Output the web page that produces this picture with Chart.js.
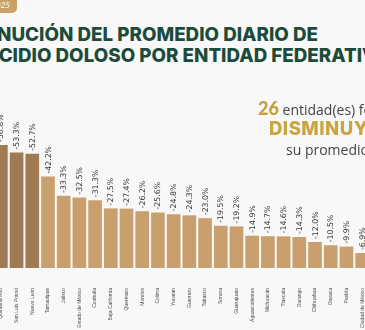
<!DOCTYPE html>
<html lang="es">
<head>
<meta charset="utf-8">
<title>Homicidio doloso por entidad federativa</title>
<script src="https://cdn.jsdelivr.net/npm/chart.js@4"></script>
<style>
    html, body {
        margin: 0;
        padding: 0;
        overflow: hidden;
    }
    #lienzo {
        width: 365px;
        height: 330px;
        overflow: hidden;
        position: relative;
        background: #f7f8f7;
    }
    #badge {
        position: absolute;
        left: 0;
        top: 0;
        width: 17px;
        height: 13px;
        border-radius: 0 0 5px 0;
        background: #c9a066;
        overflow: hidden;
    }
    #badge span {
        position: absolute;
        right: 7px;
        top: 0;
        color: #fff;
        font: italic 8px 'Lato', sans-serif;
        line-height: 10px;
        white-space: nowrap;
    }
    .titulo {
        position: absolute;
        white-space: nowrap;
        color: #1d4b3b;
        font: 800 18.8px 'Inter', sans-serif;
        line-height: 20px;
    }
    #titulo1 { right: 47px; top: 25px; }
    #titulo2 { left: -53px; top: 46px; }
    .nota {
        position: absolute;
        white-space: nowrap;
        color: #444;
        font: 14px 'Open Sans', sans-serif;
        line-height: 18px;
    }
    #nota1 { left: 258px; top: 97px; }
    #nota1 b {
        color: #c6a03c;
        font: 900 18px 'Lato', sans-serif;
    }
    #nota2 {
        left: 269px;
        top: 117px;
        color: #c9a542;
        font: 800 18.5px 'Inter', sans-serif;
        letter-spacing: 0.5px;
    }
    #nota3 { left: 286px; top: 141px; }
    #grafica {
        position: absolute;
        left: -7px;
        top: 0;
    }
</style>
</head>
<body>
<div id="lienzo">
    <div id="badge"><span>2025</span></div>
    <div class="titulo" id="titulo1">DISMINUCIÓN DEL PROMEDIO DIARIO DE</div>
    <div class="titulo" id="titulo2">HOMICIDIO DOLOSO POR ENTIDAD FEDERATIVA</div>
    <canvas id="grafica" width="377" height="330"></canvas>
    <div class="nota" id="nota1"><b>26</b> entidad(es) federativas</div>
    <div class="nota" id="nota2">DISMINUYERON</div>
    <div class="nota" id="nota3">su promedio diario</div>
</div>
<script>
'use strict';

const entidades = [
    'Quintana Roo', 'San Luis Potosí', 'Nuevo León', 'Tamaulipas', 'Jalisco',
    'Estado de México', 'Coahuila', 'Baja California', 'Querétaro', 'Morelos',
    'Colima', 'Yucatán', 'Guerrero', 'Tabasco', 'Sonora', 'Guanajuato',
    'Aguascalientes', 'Michoacán', 'Tlaxcala', 'Durango', 'Chihuahua',
    'Oaxaca', 'Puebla', 'Ciudad de México'
];
const variacion = [
    -56.8, -53.3, -52.7, -42.2, -33.3,
    -32.5, -31.3, -27.5, -27.4, -26.2,
    -25.6, -24.8, -24.3, -23.0, -19.5, -19.2,
    -14.9, -14.7, -14.6, -14.3, -12.0,
    -10.5, -9.9, -6.9
];
// the three largest drops get the darker tone
const destacadas = 3;

const color_oscuro = '#9f7a53';
const color_claro = '#c9a06d';

function format_pct(v) {
    return v.toFixed(1) + '%';
}

// value text rotated above every bar
const etiquetas_plugin = {
    id: 'etiquetas',
    afterDatasetsDraw(chart) {
        const ctx = chart.ctx;
        const meta = chart.getDatasetMeta(0);
        const data = chart.data.datasets[0].data;
        ctx.save();
        ctx.fillStyle = '#3a3a3a';
        ctx.font = '7.8px "DejaVu Sans", sans-serif';
        ctx.textAlign = 'left';
        ctx.textBaseline = 'middle';
        meta.data.forEach((bar, i) => {
            ctx.save();
            ctx.translate(bar.x + 0.5, bar.y - 3);
            ctx.rotate(-Math.PI / 2);
            ctx.fillText(format_pct(data[i]), 0, 0);
            ctx.restore();
        });
        ctx.restore();
    }
};

function draw_chart() {
    const ctx = document.getElementById('grafica').getContext('2d');
    new Chart(ctx, {
        type: 'bar',
        data: {
            labels: entidades,
            datasets: [{
                data: variacion,
                backgroundColor: variacion.map((_v, i) => i < destacadas ? color_oscuro : color_claro),
                borderWidth: 0,
                barPercentage: 0.87,
                categoryPercentage: 1.0
            }]
        },
        options: {
            responsive: false,
            animation: false,
            layout: {
                padding: { top: 138, left: 0, right: 0, bottom: 0 }
            },
            plugins: {
                legend: { display: false },
                tooltip: { enabled: false }
            },
            scales: {
                y: {
                    display: false,
                    reverse: true,
                    min: -60,
                    max: 0
                },
                x: {
                    grid: { display: false, drawTicks: false },
                    border: { display: false },
                    afterFit: (scale) => {
                        // bars run edge to edge, no room kept for the rotated labels
                        scale.height = 62;
                        scale.paddingLeft = 0;
                        scale.paddingRight = 0;
                    },
                    ticks: {
                        autoSkip: false,
                        maxRotation: 90,
                        minRotation: 90,
                        padding: 20,
                        color: '#4d4d4d',
                        font: { family: 'Liberation Sans', size: 5 }
                    }
                }
            }
        },
        plugins: [etiquetas_plugin]
    });
}

document.addEventListener('DOMContentLoaded', function(_event) {
    draw_chart();
});
</script>
</body>
</html>
